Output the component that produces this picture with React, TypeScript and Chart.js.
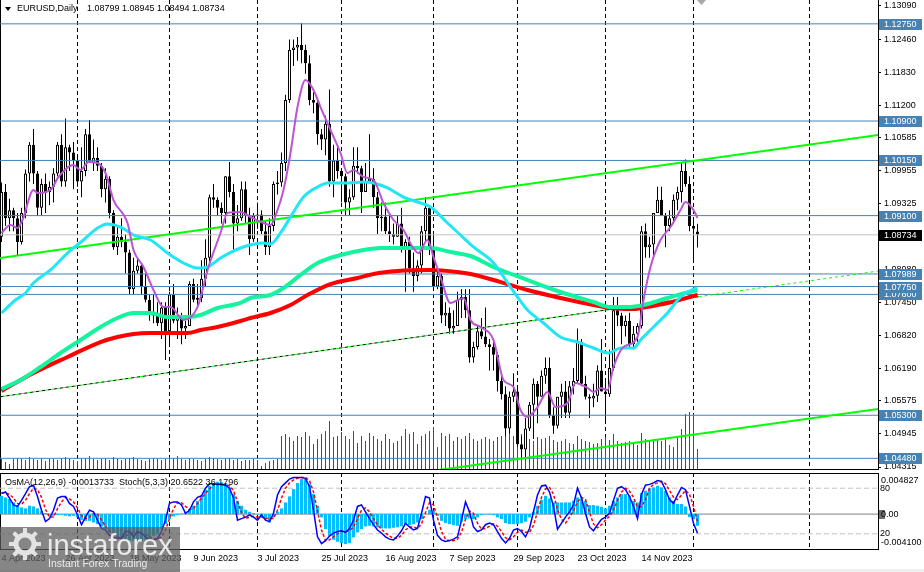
import React, { useEffect, useRef } from 'react';
import { Chart, registerables } from 'chart.js';

Chart.register(...registerables);

const FONT_FAMILY = '"Liberation Sans", Arial, sans-serif';
Chart.defaults.font.family = FONT_FAMILY;
Chart.defaults.font.size = 9;
Chart.defaults.color = '#000';

// ---------------- data ----------------
const symbolTitle = 'EURUSD,Daily';

const opens = [
  1.0870, 1.0955, 1.0905, 1.0920, 1.0905, 1.0860, 1.0915, 1.0990, 1.1045, 1.0990,
  1.0925, 1.0970, 1.0955, 1.0965, 1.0990, 1.1045, 1.0975, 1.1040, 1.1030, 1.1015,
  1.0975, 1.0995, 1.1065, 1.1010, 1.1020, 1.1005, 1.0960, 1.0980, 1.0915, 1.0850,
  1.0870, 1.0860, 1.0840, 1.0770, 1.0805, 1.0815, 1.0775, 1.0750, 1.0725, 1.0720,
  1.0705, 1.0735, 1.0690, 1.0760, 1.0710, 1.0715, 1.0695, 1.0700, 1.0780, 1.0750,
  1.0753, 1.0790, 1.0830, 1.0945, 1.0940, 1.0925, 1.0915, 1.0985, 1.0955, 1.0895,
  1.0905, 1.0960, 1.0910, 1.0865, 1.0910, 1.0912, 1.0880, 1.0850, 1.0890, 1.0970,
  1.0973, 1.1010, 1.1130, 1.1225, 1.1230, 1.1235, 1.1225, 1.1200, 1.1130, 1.1125,
  1.1065, 1.1055, 1.1085, 1.0975, 1.1015, 1.0995, 1.0985, 1.0935, 1.0945, 1.1005,
  1.1000, 1.0955, 1.0975, 1.0980, 1.0945, 1.0905, 1.0908, 1.0880, 1.0875, 1.0870,
  1.0895, 1.0845, 1.0860, 1.0810, 1.0795, 1.0815, 1.0880, 1.0925, 1.0845, 1.0775,
  1.0795, 1.0720, 1.0725, 1.0695, 1.0700, 1.0750, 1.0755, 1.0730, 1.0640, 1.0660,
  1.0690, 1.0680, 1.0665, 1.0660, 1.0645, 1.0595, 1.0570, 1.0505, 1.0565, 1.0575,
  1.0475, 1.0465, 1.0505, 1.0550, 1.0590, 1.0565, 1.0605, 1.0620, 1.0530, 1.0510,
  1.0565, 1.0575, 1.0535, 1.0585, 1.0595, 1.0670, 1.0590, 1.0565, 1.0562, 1.0567,
  1.0615, 1.0575, 1.0570, 1.0620, 1.0730, 1.0720, 1.0700, 1.0710, 1.0665, 1.0685,
  1.0700, 1.0880, 1.0850, 1.0855, 1.0915, 1.0940, 1.0910, 1.0890, 1.0905, 1.0940,
  1.0955, 1.0995, 1.0970, 1.0890, 1.08799,
];
const highs = [
  1.0973, 1.0970, 1.0942, 1.0925, 1.0915, 1.0925, 1.0998, 1.1050, 1.1075, 1.0995,
  1.0980, 1.0990, 1.0975, 1.1000, 1.1050, 1.1065, 1.1095, 1.1045, 1.1050, 1.1020,
  1.1040, 1.1075, 1.1092, 1.1055, 1.1040, 1.1010, 1.1000, 1.0985, 1.0920, 1.0890,
  1.0905, 1.0875, 1.0845, 1.0830, 1.0830, 1.0820, 1.0800, 1.0760, 1.0760, 1.0745,
  1.0745, 1.0745, 1.0765, 1.0780, 1.0735, 1.0725, 1.0710, 1.0785, 1.0790, 1.0780,
  1.0825, 1.0865, 1.0950, 1.0970, 1.0945, 1.0935, 1.0985, 1.1012, 1.0970, 1.0930,
  1.0975, 1.0975, 1.0925, 1.0915, 1.0935, 1.0920, 1.0900, 1.0905, 1.0975, 1.0995,
  1.1030, 1.1140, 1.1245, 1.1245, 1.1250, 1.1276, 1.1235, 1.1215, 1.1145, 1.1135,
  1.1075, 1.1100, 1.1150, 1.1045, 1.1045, 1.1000, 1.0990, 1.0960, 1.1040, 1.1040,
  1.1005, 1.1010, 1.1065, 1.1000, 1.0955, 1.0935, 1.0935, 1.0910, 1.0895, 1.0910,
  1.0925, 1.0865, 1.0870, 1.0840, 1.0825, 1.0890, 1.0945, 1.0930, 1.0880, 1.0810,
  1.0800, 1.0745, 1.0735, 1.0730, 1.0765, 1.0770, 1.0770, 1.0770, 1.0670, 1.0700,
  1.0715, 1.0735, 1.0675, 1.0675, 1.0650, 1.0610, 1.0585, 1.0575, 1.0610, 1.0580,
  1.0490, 1.0525, 1.0555, 1.0600, 1.0595, 1.0615, 1.0640, 1.0640, 1.0545, 1.0565,
  1.0590, 1.0595, 1.0595, 1.0620, 1.0695, 1.0675, 1.0605, 1.0570, 1.0590, 1.0625,
  1.0675, 1.0600, 1.0655, 1.0755, 1.0755, 1.0725, 1.0720, 1.0725, 1.0700, 1.0705,
  1.0890, 1.0895, 1.0870, 1.0915, 1.0965, 1.0965, 1.0915, 1.0920, 1.0950, 1.0965,
  1.1010, 1.1017, 1.0985, 1.0900, 1.08945,
];
const lows = [
  1.0860, 1.0890, 1.0880, 1.0880, 1.0835, 1.0855, 1.0905, 1.0975, 1.0970, 1.0910,
  1.0910, 1.0915, 1.0930, 1.0935, 1.0985, 1.0965, 1.0965, 1.0995, 1.0960, 1.0965,
  1.0945, 1.0985, 1.1010, 1.0995, 1.0995, 1.0945, 1.0935, 1.0905, 1.0845, 1.0835,
  1.0850, 1.0800, 1.0760, 1.0760, 1.0800, 1.0760, 1.0745, 1.0710, 1.0705, 1.0700,
  1.0675, 1.0635, 1.0665, 1.0705, 1.0675, 1.0665, 1.0675, 1.0700, 1.0745, 1.0735,
  1.0745, 1.0775, 1.0815, 1.0925, 1.0910, 1.0895, 1.0895, 1.0945, 1.0845, 1.0880,
  1.0900, 1.0895, 1.0835, 1.0860, 1.0885, 1.0875, 1.0835, 1.0835, 1.0880, 1.0950,
  1.0965, 1.0995, 1.1125, 1.1195, 1.1205, 1.1200, 1.1180, 1.1120, 1.1105, 1.1045,
  1.1035, 1.1025, 1.0965, 1.0945, 1.0980, 1.0935, 1.0910, 1.0910, 1.0940, 1.0990,
  1.0915, 1.0955, 1.0975, 1.0925, 1.0875, 1.0880, 1.0875, 1.0860, 1.0855, 1.0870,
  1.0840, 1.0765, 1.0800, 1.0765, 1.0785, 1.0800, 1.0860, 1.0835, 1.0770, 1.0770,
  1.0705, 1.0700, 1.0685, 1.0685, 1.0700, 1.0715, 1.0715, 1.0630, 1.0630, 1.0655,
  1.0675, 1.0660, 1.0615, 1.0615, 1.0575, 1.0560, 1.0490, 1.0495, 1.0555, 1.0470,
  1.0448, 1.0450, 1.0500, 1.0485, 1.0515, 1.0565, 1.0590, 1.0525, 1.0495, 1.0505,
  1.0525, 1.0525, 1.0525, 1.0570, 1.0590, 1.0585, 1.0560, 1.0525, 1.0545, 1.0555,
  1.0575, 1.0515, 1.0565, 1.0615, 1.0700, 1.0665, 1.0680, 1.0660, 1.0655, 1.0665,
  1.0695, 1.0830, 1.0830, 1.0830, 1.0915, 1.0910, 1.0850, 1.0880, 1.0895, 1.0920,
  1.0935, 1.0965, 1.0880, 1.0825, 1.08494,
];
const closes = [
  1.0955, 1.0905, 1.0920, 1.0905, 1.0860, 1.0915, 1.0990, 1.1045, 1.0990, 1.0925,
  1.0970, 1.0955, 1.0965, 1.0990, 1.1045, 1.0975, 1.1040, 1.1030, 1.1015, 1.0975,
  1.0995, 1.1065, 1.1010, 1.1020, 1.1005, 1.0960, 1.0980, 1.0915, 1.0850, 1.0870,
  1.0860, 1.0840, 1.0770, 1.0805, 1.0815, 1.0775, 1.0750, 1.0725, 1.0720, 1.0705,
  1.0735, 1.0690, 1.0760, 1.0710, 1.0715, 1.0695, 1.0700, 1.0780, 1.0750, 1.0753,
  1.0790, 1.0830, 1.0945, 1.0940, 1.0925, 1.0915, 1.0985, 1.0955, 1.0895, 1.0905,
  1.0960, 1.0910, 1.0865, 1.0910, 1.0912, 1.0880, 1.0850, 1.0890, 1.0970, 1.0973,
  1.1010, 1.1130, 1.1225, 1.1230, 1.1235, 1.1225, 1.1200, 1.1130, 1.1125, 1.1065,
  1.1055, 1.1085, 1.0975, 1.1015, 1.0995, 1.0985, 1.0935, 1.0945, 1.1005, 1.1000,
  1.0955, 1.0975, 1.0980, 1.0945, 1.0905, 1.0908, 1.0880, 1.0875, 1.0870, 1.0895,
  1.0845, 1.0860, 1.0810, 1.0795, 1.0815, 1.0880, 1.0925, 1.0845, 1.0775, 1.0795,
  1.0720, 1.0725, 1.0695, 1.0700, 1.0750, 1.0755, 1.0730, 1.0640, 1.0660, 1.0690,
  1.0680, 1.0665, 1.0660, 1.0645, 1.0595, 1.0570, 1.0505, 1.0565, 1.0575, 1.0475,
  1.0465, 1.0505, 1.0550, 1.0590, 1.0565, 1.0605, 1.0620, 1.0530, 1.0510, 1.0565,
  1.0575, 1.0535, 1.0585, 1.0595, 1.0670, 1.0590, 1.0565, 1.0562, 1.0567, 1.0615,
  1.0575, 1.0570, 1.0620, 1.0730, 1.0720, 1.0700, 1.0710, 1.0665, 1.0685, 1.0700,
  1.0880, 1.0850, 1.0855, 1.0915, 1.0940, 1.0910, 1.0890, 1.0905, 1.0940, 1.0955,
  1.0995, 1.0970, 1.0890, 1.0885, 1.08734,
];
// tick volume, thousands
const volumesK = [
  10, 7, 5, 10, 11, 10, 9, 12, 10, 9, 11, 8, 10, 10, 9, 11, 12, 10, 9, 8,
  10, 11, 13, 10, 9, 10, 11, 9, 12, 10, 9, 10, 11, 12, 10, 9, 8, 10, 11, 10,
  9, 10, 12, 11, 13, 10, 9, 11, 10, 9, 8, 10, 12, 11, 10, 9, 10, 11, 9, 10,
  8, 9, 9, 10, 9, 3, 6, 8, 9, 10,
  33, 35, 32, 28, 33, 32, 37, 33, 25, 30, 35, 38, 48, 32, 33, 37, 33, 30, 38, 26,
  33, 28, 36, 33, 30, 28, 35, 30, 26, 28, 33, 40, 35, 37, 25, 33, 35, 38, 42, 22,
  36, 33, 35, 28, 32, 30, 33, 36, 30, 28, 30, 32, 30, 28, 32, 33, 35, 36, 33, 34,
  35, 32, 30, 28, 32, 30, 31, 33, 29, 27, 28, 30, 26, 25, 33, 30, 28, 27, 25, 26,
  30, 32, 29, 35, 28, 26, 27, 28, 25, 24, 36, 30, 28, 30, 29, 28, 30, 24, 22, 32,
  40, 55, 57, 55, 20,
];

// moving averages (bar index, price)
const maFastBars = [0, 2.25, 4, 5.25, 8, 9, 12.25, 14.25, 18, 19.75, 21.75, 24, 26, 28, 31.5, 33, 35.5, 38, 40.5, 42.25, 45.5, 49, 51.75, 54.75, 56.5, 59.75, 62.25, 65.5, 67.25, 69, 70.5, 72.25, 74, 76, 78, 79.75, 82.25, 84.75, 86.5, 88, 90.5, 93, 95.5, 98, 100.5, 102.75, 104.25, 106.5, 108, 109.75, 112.25, 115.5, 117.25, 119.75, 123, 125.5, 128, 129.75, 131.5, 134, 136.5, 138.5, 141.5, 143.5, 146.5, 148, 149.75, 151.5, 153, 155.5, 159, 160.5, 162.25, 164.75, 167.25, 169.75, 171, 173, 174];
const maFastVals = [1.08769, 1.08921, 1.08864, 1.09017, 1.09588, 1.09531, 1.09588, 1.09835, 1.10063, 1.09968, 1.10121, 1.10102, 1.09911, 1.09397, 1.08959, 1.08446, 1.08122, 1.07684, 1.0736, 1.0736, 1.07113, 1.0736, 1.08122, 1.08769, 1.0915, 1.09169, 1.09074, 1.08959, 1.08921, 1.09207, 1.09588, 1.10292, 1.11167, 1.11681, 1.11491, 1.11167, 1.1073, 1.10292, 1.09911, 1.09968, 1.09835, 1.09778, 1.0934, 1.09017, 1.08826, 1.08503, 1.08388, 1.08636, 1.08312, 1.07932, 1.07437, 1.07532, 1.07113, 1.0698, 1.06732, 1.05971, 1.05838, 1.054, 1.05267, 1.05457, 1.05743, 1.05457, 1.05533, 1.05914, 1.05819, 1.05743, 1.05819, 1.05781, 1.06218, 1.06599, 1.06789, 1.07494, 1.08122, 1.08636, 1.08883, 1.09207, 1.09359, 1.09207, 1.09055];

const maMidBars = [0, 3.5, 6, 8, 12.25, 16.5, 20.5, 24, 26.5, 29.75, 33, 37.25, 41.5, 45.5, 49, 51.5, 54.75, 59.75, 65.5, 67.25, 69.75, 72.25, 75.5, 79, 81.5, 86.5, 90.5, 93, 96.5, 100.5, 104, 107.25, 111.5, 114.75, 118, 123, 127.25, 131.5, 135.5, 139.75, 144, 148, 151.75, 154.75, 158, 159.75, 163, 166.5, 169.75, 173, 174];
const maMidVals = [1.07246, 1.07494, 1.07627, 1.07817, 1.08065, 1.08388, 1.08636, 1.08864, 1.0894, 1.08883, 1.08731, 1.08636, 1.08388, 1.08198, 1.08103, 1.08122, 1.08293, 1.08484, 1.08579, 1.0856, 1.08769, 1.09074, 1.09454, 1.09645, 1.09721, 1.09721, 1.0974, 1.09721, 1.09626, 1.09454, 1.09359, 1.09264, 1.08959, 1.08731, 1.08503, 1.08198, 1.07741, 1.07303, 1.07056, 1.06789, 1.06694, 1.0658, 1.06485, 1.0658, 1.0658, 1.06732, 1.0698, 1.07246, 1.07551, 1.07703, 1.07722];

const maSlowBars = [0, 4.75, 9.75, 14.75, 19.75, 24.75, 29, 33, 37.25, 41.5, 46.5, 49.75, 54, 59.75, 62.25, 67.25, 70.5, 74.75, 79, 84.75, 90.5, 94.75, 101.5, 107.25, 112.25, 117.25, 123, 131.5, 139.75, 148, 152.25, 156.5, 160.5, 166.5, 173, 174];
const maSlowVals = [1.058, 1.05971, 1.06218, 1.06485, 1.06732, 1.0698, 1.07151, 1.07246, 1.07246, 1.0717, 1.0717, 1.07208, 1.07341, 1.07437, 1.07532, 1.07589, 1.07722, 1.0797, 1.08198, 1.0835, 1.08446, 1.08484, 1.08484, 1.08484, 1.08407, 1.08331, 1.08122, 1.07874, 1.07646, 1.07456, 1.0736, 1.0736, 1.07399, 1.07532, 1.07665, 1.0768];

const ma200Bars = [0, 8, 16.5, 24.75, 29, 33, 37.25, 41.5, 46.5, 49.75, 54, 59.75, 62.25, 67.25, 72.25, 76.5, 82.25, 89, 93, 99, 107.25, 114, 117.25, 123, 131.5, 139.75, 148, 152.25, 158, 161.25, 166.5, 173, 174];
const ma200Vals = [1.05762, 1.06104, 1.06409, 1.06694, 1.06789, 1.06847, 1.06866, 1.06866, 1.06866, 1.06923, 1.0698, 1.07094, 1.07151, 1.07246, 1.07399, 1.07589, 1.07798, 1.07913, 1.07989, 1.08046, 1.08065, 1.08027, 1.07989, 1.07874, 1.07684, 1.07532, 1.07399, 1.07341, 1.07322, 1.0736, 1.07437, 1.0757, 1.0759];

// trend lines (bar index, price)
const upperTrendBars = [-1, 220];
const upperTrendPrices = [1.08286, 1.10642];
const lowerTrendBars = [108.4, 220];
const lowerTrendPrices = [1.04248, 1.05427];
const dottedTrendBars = [-1, 220];
const dottedTrendPrices = [1.05645, 1.08054];
const blackTrendBars = [-1, 174.6];
const blackTrendPrices = [1.05645, 1.0756];

// horizontal levels
const levelPrices = [1.1275, 1.109, 1.1015, 1.091, 1.07989, 1.0775, 1.076, 1.053, 1.0448];
const bidPrice = 1.08734;

// axes
const priceTicks = [1.1309, 1.1246, 1.1183, 1.112, 1.10585, 1.09955, 1.09325, 1.0808, 1.0745, 1.0682, 1.0619, 1.05575, 1.04945, 1.04315];
const PRICE_MIN = 1.04277;
const PRICE_MAX = 1.13204;
const dateTickBars = [0, 16, 32, 48, 64, 80, 96, 112, 128, 144, 160];
const dateLabels = ['4 Apr 2023', '26 Apr 2023', '18 May 2023', '9 Jun 2023', '3 Jul 2023', '25 Jul 2023', '16 Aug 2023', '7 Sep 2023', '29 Sep 2023', '23 Oct 2023', '14 Nov 2023'];
const monthStartBars = [19, 42, 64, 85, 108, 129, 151, 173, 202];
const X_MIN = -0.375;
const X_MAX = 219.125;

// oscillators
const osma = [
  0.00215, 0.00196, 0.00176, 0.00137, 0.00098, 0.00079, 0.00067, 0.00098, 0.0009, 0.00067,
  0.00039, 0.00012, -0.00012, -0.0002, -0.00012, -0.00008, -0.0002, -0.00027, -0.0002, -0.00039,
  -0.00067, -0.00079, -0.00079, -0.00098, -0.00118, -0.00145, -0.00176, -0.00215, -0.00235, -0.00274,
  -0.00286, -0.00302, -0.00314, -0.00314, -0.00325, -0.00314, -0.00302, -0.00294, -0.00255, -0.00235,
  -0.00176, -0.00118, -0.00059, -0.00027, -0.00012, 0.00006, 0.00027, 0.00059, 0.00098, 0.00156,
  0.00215, 0.00286, 0.00333, 0.00364, 0.0038, 0.00372, 0.00364, 0.00314, 0.00235, 0.00156,
  0.00098, 0.00051, 0.00027, 0.00012, -0.00004, -0.0002, -0.00059, -0.00098, -0.00039, 0.00027,
  0.00067, 0.00137, 0.00208, 0.00294, 0.00364, 0.00411, 0.00419, 0.00353, 0.00235, 0.00098,
  -0.00039, -0.00176, -0.00255, -0.00302, -0.00325, -0.00341, -0.00353, -0.00341, -0.00274, -0.00215,
  -0.00176, -0.00145, -0.00137, -0.00145, -0.00156, -0.00168, -0.00168, -0.00168, -0.00161, -0.00156,
  -0.00145, -0.00129, -0.00129, -0.00118, -0.00098, -0.00059, 0.00002, 0.00051, 0.00039, -0.0002,
  -0.00079, -0.00106, -0.00118, -0.00129, -0.00137, -0.0009, -0.00059, -0.00051, -0.00059, -0.00039,
  -0.00012, -0.00002, -0.00008, -0.00012, -0.00039, -0.00059, -0.00106, -0.00118, -0.00118, -0.00118,
  -0.00106, -0.0009, -0.00039, 0.00027, 0.00098, 0.00168, 0.00215, 0.00184, 0.00137, 0.00137,
  0.00137, 0.00137, 0.00137, 0.00156, 0.00196, 0.00184, 0.00156, 0.00106, 0.00106, 0.00098,
  0.00086, 0.00067, 0.00098, 0.00156, 0.00196, 0.00235, 0.00235, 0.00215, 0.00156, 0.00137,
  0.00247, 0.00274, 0.00302, 0.00314, 0.00333, 0.00314, 0.00274, 0.00196, 0.00156, 0.00118,
  0.00118, 0.0009, -0.00035, -0.00059, -0.0013733,
];
const stochK = [
  73, 75, 67, 58, 56, 64, 73, 82, 84, 69, 51, 36, 40, 51, 67, 69, 69, 60, 56, 45,
  32, 42, 51, 49, 38, 27, 25, 18, 16, 14, 14, 23, 23, 16, 23, 21, 16, 12, 12, 14,
  23, 38, 60, 62, 62, 58, 47, 51, 62, 68, 70, 80, 86, 86, 85, 85, 84, 80, 67, 38,
  40, 42, 45, 42, 38, 45, 38, 36, 47, 71, 82, 87, 92, 94, 94, 94, 93, 82, 51, 16,
  7, 11, 17, 21, 23, 24, 22, 27, 38, 56, 58, 49, 40, 32, 25, 21, 16, 13, 12, 17,
  24, 34, 29, 25, 27, 47, 69, 67, 38, 18, 12, 10, 11, 13, 16, 38, 62, 49, 29, 23,
  25, 32, 34, 32, 23, 14, 8, 14, 25, 27, 23, 16, 27, 49, 71, 83, 84, 75, 56, 26,
  34, 42, 49, 58, 80, 67, 47, 29, 24, 32, 39, 42, 47, 64, 80, 82, 78, 69, 56, 40,
  72, 84, 85, 87, 90, 89, 78, 65, 60, 71, 81, 78, 56, 34, 20.6522,
];
const stochD = [
  74, 74, 72, 67, 60, 59, 64, 73, 80, 78, 68, 52, 42, 42, 53, 62, 68, 66, 62, 54,
  44, 40, 42, 47, 46, 38, 30, 23, 20, 16, 15, 17, 20, 21, 21, 20, 20, 16, 13, 13,
  16, 25, 40, 53, 61, 61, 56, 52, 53, 60, 67, 73, 79, 84, 86, 85, 85, 83, 77, 62,
  48, 40, 42, 43, 42, 42, 40, 40, 40, 51, 67, 80, 87, 91, 93, 94, 94, 90, 75, 50,
  25, 11, 12, 16, 20, 23, 23, 24, 29, 40, 51, 54, 49, 40, 32, 26, 21, 17, 14, 14,
  18, 25, 29, 29, 27, 33, 48, 61, 58, 41, 23, 13, 11, 11, 13, 22, 39, 50, 47, 34,
  26, 27, 30, 33, 30, 23, 15, 12, 16, 22, 25, 22, 22, 31, 49, 68, 79, 81, 72, 52,
  39, 34, 42, 50, 62, 68, 65, 48, 33, 28, 32, 38, 43, 51, 64, 75, 80, 76, 68, 55,
  56, 65, 80, 85, 87, 89, 86, 77, 68, 65, 71, 77, 72, 56, 36.1796,
];
const stochLevels = [80, 20];
const OSMA_MIN = -0.0041;
const OSMA_MAX = 0.004827;

// ---------------- helpers ----------------
const pts = (xs: number[], ys: number[]) => xs.map((x, i) => ({ x, y: ys[i] }));
const barIdx = closes.map((_, i) => i);
const fit = (w: number | null, h: number | null) => (s: any) => {
  if (w !== null) s.width = w;
  if (h !== null) s.height = h;
  s.paddingLeft = 0; s.paddingRight = 0; s.paddingTop = 0; s.paddingBottom = 0;
};
const font = (px: number) => `${px}px ${FONT_FAMILY}`;

const commonX = { type: 'linear', min: X_MIN, max: X_MAX, offset: false, bounds: 'data' };

const makeGridXAxis = () => ({
  ...commonX,
  position: 'bottom',
  afterBuildTicks: (s: any) => { s.ticks = monthStartBars.map((v) => ({ value: v })); },
  ticks: { display: false },
  grid: { display: true, offset: false, color: '#000', lineWidth: 1, drawTicks: false },
  border: { display: false, dash: [4, 3] },
  afterFit: fit(null, 0),
});
const makeLeftBorderAxis = () => ({
  type: 'linear', position: 'left', min: 0, max: 1,
  ticks: { display: false }, grid: { display: false, drawTicks: false },
  border: { display: true, color: '#000', width: 1 },
  afterFit: fit(0, null),
});

const mainOverlay = {
  id: 'mainOverlay',
  afterDraw(chart: any) {
    const { ctx } = chart;
    const y = chart.scales.y;
    ctx.save();
    ctx.font = font(9);
    ctx.textBaseline = 'middle';
    const sorted = [...levelPrices].sort((a, b) => a - b);
    sorted.forEach((lv) => {
      const py = Math.round(y.getPixelForValue(lv));
      ctx.fillStyle = '#4682B4';
      ctx.fillRect(879, py - 5, 43, 11);
      ctx.fillStyle = '#ffffff';
      ctx.fillText(lv.toFixed(5), 884, py + 0.5);
    });
    const pb = Math.round(y.getPixelForValue(bidPrice));
    ctx.fillStyle = '#000000';
    ctx.fillRect(879, pb - 5, 43, 11);
    ctx.fillStyle = '#ffffff';
    ctx.fillText(bidPrice.toFixed(5), 884, pb + 0.5);

    // header
    const last = closes.length - 1;
    ctx.fillStyle = '#000';
    ctx.beginPath();
    ctx.moveTo(5, 7); ctx.lineTo(11, 7); ctx.lineTo(8, 11); ctx.closePath();
    ctx.fill();
    ctx.fillText(symbolTitle, 17, 9);
    ctx.fillText(
      `${opens[last].toFixed(5)} ${highs[last].toFixed(5)} ${lows[last].toFixed(5)} ${closes[last].toFixed(5)}`,
      87, 9,
    );
    // shift marker
    ctx.fillStyle = '#a8a8a8';
    ctx.beginPath();
    ctx.moveTo(697, 0); ctx.lineTo(706, 0); ctx.lineTo(701.5, 5); ctx.closePath();
    ctx.fill();
    ctx.restore();
  },
};

const subOverlay = {
  id: 'subOverlay',
  afterDraw(chart: any) {
    const { ctx, chartArea } = chart;
    const yo = chart.scales.yo;
    const last = osma.length - 1;
    ctx.save();
    ctx.font = font(9);
    ctx.fillStyle = '#000';
    ctx.textBaseline = 'middle';
    ctx.fillText(
      `OsMA(12,26,9) ${osma[last].toFixed(7)}  Stoch(5,3,3) ${stochK[last].toFixed(4)} ${stochD[last].toFixed(4)}`,
      5, 13,
    );
    ctx.textBaseline = 'top';
    ctx.fillText(OSMA_MAX.toFixed(6), 881, chartArea.top + 3);
    ctx.textBaseline = 'bottom';
    ctx.fillText(OSMA_MIN.toFixed(6), 881, chartArea.bottom - 2);
    const z = Math.round(yo.getPixelForValue(0));
    ctx.fillStyle = '#6e6e6e';
    ctx.fillRect(879, z - 4, 6, 9);
    ctx.fillStyle = '#000';
    ctx.textBaseline = 'middle';
    ctx.fillText((0).toFixed(2), 881, z + 0.5);

    // window frame strip
    ctx.fillStyle = '#f0f0f0';
    ctx.fillRect(0, 99, 924, 3);

    // watermark
    ctx.fillStyle = 'rgba(92,92,92,0.74)';
    ctx.fillRect(0, 57, 180, 45);
    ctx.strokeStyle = 'rgba(235,235,235,0.92)';
    ctx.lineWidth = 5;
    ctx.beginPath(); ctx.arc(25, 74, 9, 0, Math.PI * 2); ctx.stroke();
    ctx.lineWidth = 4;
    for (let k = 0; k < 8; k++) {
      const a = (k * Math.PI) / 4;
      ctx.beginPath();
      ctx.moveTo(25 + Math.cos(a) * 11, 74 + Math.sin(a) * 11);
      ctx.lineTo(25 + Math.cos(a) * 16, 74 + Math.sin(a) * 16);
      ctx.stroke();
    }
    ctx.fillStyle = 'rgba(240,240,240,0.95)';
    ctx.textBaseline = 'alphabetic';
    ctx.font = font(29);
    ctx.fillText('instaforex', 47, 85);
    ctx.font = font(10.5);
    ctx.fillText('Instant Forex Trading', 48, 97);
    ctx.restore();
  },
};

function lineDs(data: any[], color: string, width: number, order: number, yAxisID: string, extra: any = {}) {
  return {
    type: 'line', data, borderColor: color, borderWidth: width, pointRadius: 0,
    fill: false, tension: 0, order, xAxisID: 'x', yAxisID, ...extra,
  };
}

function mainConfig() {
  const bodyData = closes.map((c, i) => ({ x: i, y: [opens[i], c] }));
  const wickData = closes.map((_, i) => ({ x: i, y: [lows[i], highs[i]] }));
  const bodyColors = closes.map((c, i) => (c >= opens[i] ? '#ffffff' : '#000000'));
  const levelSets = levelPrices.map((lv) =>
    lineDs([{ x: X_MIN, y: lv }, { x: X_MAX, y: lv }], '#4682B4', 1, 6, 'y'));
  return {
    type: 'bar',
    data: {
      datasets: [
        lineDs(pts(maFastBars, maFastVals), '#BA55D3', 2, 1, 'y', { cubicInterpolationMode: 'monotone' }),
        lineDs(pts(maMidBars, maMidVals), '#22E5F5', 3, 2, 'y', { cubicInterpolationMode: 'monotone' }),
        lineDs(pts(maSlowBars, maSlowVals), '#14F39E', 4, 3, 'y', { cubicInterpolationMode: 'monotone' }),
        lineDs(pts(ma200Bars, ma200Vals), '#FF0000', 4, 4, 'y', { cubicInterpolationMode: 'monotone' }),
        lineDs(pts(upperTrendBars, upperTrendPrices), '#00FF00', 2, 5, 'y'),
        lineDs(pts(lowerTrendBars, lowerTrendPrices), '#00FF00', 2, 5, 'y'),
        lineDs(pts(blackTrendBars, blackTrendPrices), '#000000', 1, 5, 'y', { borderDash: [3, 3], borderDashOffset: 3 }),
        lineDs(pts(dottedTrendBars, dottedTrendPrices), '#00FF00', 1, 5, 'y', { borderDash: [3, 3] }),
        ...levelSets,
        lineDs([{ x: X_MIN, y: bidPrice }, { x: X_MAX, y: bidPrice }], '#C0C0C0', 1, 6, 'y'),
        {
          type: 'bar', data: bodyData, backgroundColor: bodyColors, borderColor: '#000000',
          borderWidth: 1, borderSkipped: false, barThickness: 3, grouped: false,
          inflateAmount: 0, minBarLength: 1, order: 7, xAxisID: 'x', yAxisID: 'y',
        },
        {
          type: 'bar', data: wickData, backgroundColor: '#000000', borderWidth: 0,
          barThickness: 1, grouped: false, inflateAmount: 0, order: 8, xAxisID: 'x', yAxisID: 'y',
        },
        {
          type: 'bar', data: pts(barIdx, volumesK), backgroundColor: '#008000', borderWidth: 0,
          barThickness: 1, grouped: false, inflateAmount: 0, order: 10, xAxisID: 'x', yAxisID: 'yv',
        },
      ],
    },
    options: {
      responsive: false, maintainAspectRatio: false, animation: false, devicePixelRatio: 1, events: [],
      layout: { padding: 0 },
      plugins: { legend: { display: false }, tooltip: { enabled: false }, title: { display: false } },
      scales: {
        x: {
          ...commonX, position: 'bottom',
          ticks: { display: false }, grid: { display: false, offset: false, drawTicks: false },
          border: { display: true, color: '#000', width: 1 },
          afterFit: fit(null, 1),
        },
        xg: makeGridXAxis(),
        yl: makeLeftBorderAxis(),
        y: {
          type: 'linear', position: 'right', min: PRICE_MIN, max: PRICE_MAX, bounds: 'data',
          afterBuildTicks: (s: any) => { s.ticks = priceTicks.map((v) => ({ value: v })); },
          ticks: { callback: (v: any) => Number(v).toFixed(5), color: '#000', font: { size: 9 }, padding: 3, autoSkip: false },
          grid: { display: true, drawOnChartArea: false, drawTicks: true, tickLength: 3, color: '#000' },
          border: { display: true, color: '#000', width: 1 },
          afterFit: fit(46, null),
        },
        yv: { type: 'linear', display: false, min: 0, max: 469 },
      },
    },
    plugins: [mainOverlay],
  };
}

function subConfig() {
  const levelSets = stochLevels.map((lv) =>
    lineDs([{ x: X_MIN, y: lv }, { x: X_MAX, y: lv }], '#C0C0C0', 1, 6, 'ys', { borderDash: [5, 3] }));
  return {
    type: 'bar',
    data: {
      datasets: [
        lineDs(pts(barIdx, stochK), '#0000FF', 1.5, 1, 'ys'),
        lineDs(pts(barIdx, stochD), '#FF0000', 1.5, 2, 'ys', { borderDash: [3, 2] }),
        ...levelSets,
        lineDs([{ x: X_MIN, y: 0 }, { x: X_MAX, y: 0 }], '#808080', 1, 6, 'yo'),
        {
          type: 'bar', data: pts(barIdx, osma), backgroundColor: '#00BFFF', borderWidth: 0,
          barThickness: 3, grouped: false, inflateAmount: 0, order: 5, xAxisID: 'x', yAxisID: 'yo',
        },
      ],
    },
    options: {
      responsive: false, maintainAspectRatio: false, animation: false, devicePixelRatio: 1, events: [],
      layout: { padding: { top: 3, left: 0, right: 0, bottom: 0 } },
      plugins: { legend: { display: false }, tooltip: { enabled: false }, title: { display: false } },
      scales: {
        x: {
          ...commonX, position: 'bottom',
          afterBuildTicks: (s: any) => { s.ticks = dateTickBars.map((v) => ({ value: v })); },
          ticks: {
            callback: (v: any) => { const k = dateTickBars.indexOf(Number(v)); return k >= 0 ? dateLabels[k] : ''; },
            align: 'start', maxRotation: 0, minRotation: 0, autoSkip: false, padding: 4, color: '#000', font: { size: 9 },
          },
          grid: { display: false, offset: false, drawTicks: false },
          border: { display: true, color: '#000', width: 1 },
          afterFit: fit(null, 23),
        },
        xg: makeGridXAxis(),
        xt: {
          ...commonX, position: 'top',
          ticks: { display: false }, grid: { display: false, offset: false, drawTicks: false },
          border: { display: true, color: '#000', width: 1 },
          afterFit: fit(null, 0),
        },
        yl: makeLeftBorderAxis(),
        ys: {
          type: 'linear', position: 'right', min: 0, max: 100, bounds: 'data',
          afterBuildTicks: (s: any) => { s.ticks = stochLevels.map((v) => ({ value: v })); },
          ticks: { callback: (v: any) => String(v), color: '#000', font: { size: 9 }, padding: 2, autoSkip: false },
          grid: { display: true, drawOnChartArea: false, drawTicks: false },
          border: { display: true, color: '#000', width: 1 },
          afterFit: fit(46, null),
        },
        yo: { type: 'linear', display: false, min: OSMA_MIN, max: OSMA_MAX },
      },
    },
    plugins: [subOverlay],
  };
}

export default function App() {
  const mainRef = useRef<HTMLCanvasElement>(null);
  const subRef = useRef<HTMLCanvasElement>(null);
  useEffect(() => {
    const c1 = new Chart(mainRef.current as HTMLCanvasElement, mainConfig() as any);
    const c2 = new Chart(subRef.current as HTMLCanvasElement, subConfig() as any);
    return () => { c1.destroy(); c2.destroy(); };
  }, []);
  return (
    <div style={{ position: 'fixed', left: 0, top: 0, width: 924, height: 572, background: '#ffffff', overflow: 'hidden' }}>
      <canvas ref={mainRef} width={924} height={470} style={{ position: 'absolute', left: 0, top: 0, width: 924, height: 470 }} />
      <canvas ref={subRef} width={924} height={102} style={{ position: 'absolute', left: 0, top: 470, width: 924, height: 102 }} />
    </div>
  );
}
